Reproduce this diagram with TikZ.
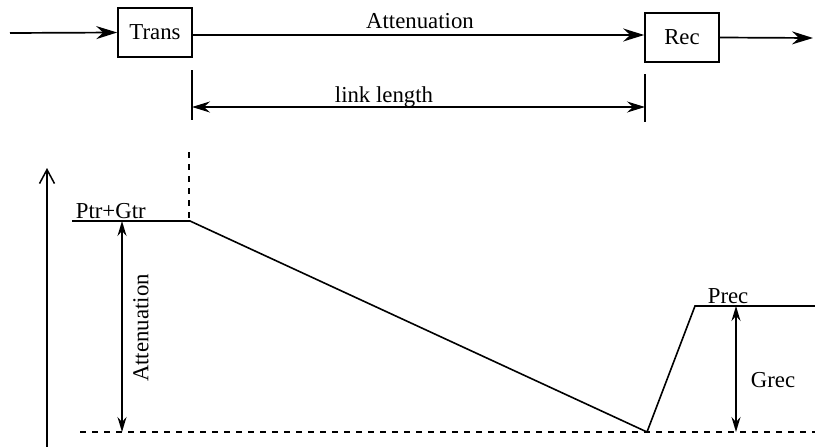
\documentclass[tikz,border=0pt]{standalone}
\usepackage{fontspec}
\setmainfont{Liberation Serif}
\usetikzlibrary{arrows.meta}
\begin{document}
\begin{tikzpicture}[x=1pt,y=-1pt,
  line width=1.7pt,
  every node/.style={font=\fontsize{22.8}{26}\selectfont, inner sep=0pt},
  box/.style={draw, line width=1.6pt, minimum width=74pt, minimum height=49pt},
  arr/.style={-{Stealth[length=21pt,width=13pt,inset=7pt]}},
  larr/.style={{Stealth[length=18pt,width=11pt,inset=6pt]}-{Stealth[length=18pt,width=11pt,inset=6pt]}},
  darr/.style={{Stealth[length=15pt,width=9pt,inset=5pt]}-{Stealth[length=15pt,width=9pt,inset=5pt]}},
  dashline/.style={dash pattern=on 6pt off 6pt, line width=1.5pt}]
\useasboundingbox (0,0) rectangle (815,447);
% top block diagram
\node[box] (trans) at (155,32.5) {Trans};
\node[box] (rec) at (682,37.5) {Rec};
\coordinate (in) at (10,33);
\coordinate (out) at (813,38);
\draw[arr] (in) -- (trans.west);
\draw[arr] ([yshift=-2.5pt]trans.east) -- ([yshift=2.5pt]rec.west);
\draw[arr] (rec.east) -- (out);
\node[anchor=base] (attl) at (420,28) {Attenuation};
% link length
\coordinate (l1a) at (192,70); \coordinate (l1b) at (192,120);
\coordinate (l2a) at (645,74); \coordinate (l2b) at (645,122);
\coordinate (la) at (192,107); \coordinate (lb) at (645,107);
\draw[line width=1.6pt] (l1a) -- (l1b);
\draw[line width=1.6pt] (l2a) -- (l2b);
\draw[larr] (la) -- (lb);
\node[anchor=base] (ll) at (384,102) {link length};
% bottom graph
\coordinate (ya) at (47,447); \coordinate (yb) at (47,168);
\draw[-{Straight Barb[length=14pt,width=15pt]}, line width=1.5pt] (ya) -- (yb);
\coordinate (dv1) at (189,152); \coordinate (dv2) at (189,220);
\draw[dashline] (dv1) -- (dv2);
\coordinate (p0) at (72,221);
\coordinate (p1) at (190,221);
\coordinate (p2) at (647,432);
\coordinate (p3) at (695,306);
\coordinate (p4) at (815,306);
\draw[line width=1.6pt] (p0) -- (p1) -- (p2) -- (p3) -- (p4);
\coordinate (b0) at (80,432); \coordinate (b1) at (815,432);
\draw[dashline] (b0) -- (b1);
\node[anchor=base west] (ptr) at (75,218) {Ptr+Gtr};
\coordinate (aa) at (122,221); \coordinate (ab) at (122,432);
\draw[darr] (aa) -- (ab);
\node[rotate=90] (attv) at (141,328) {Attenuation};
\node[anchor=base west] (prec) at (707,303) {Prec};
\coordinate (ga) at (736,306); \coordinate (gb) at (736,432);
\draw[darr] (ga) -- (gb);
\node[anchor=base west] (grec) at (750,387) {Grec};
\end{tikzpicture}
\end{document}
